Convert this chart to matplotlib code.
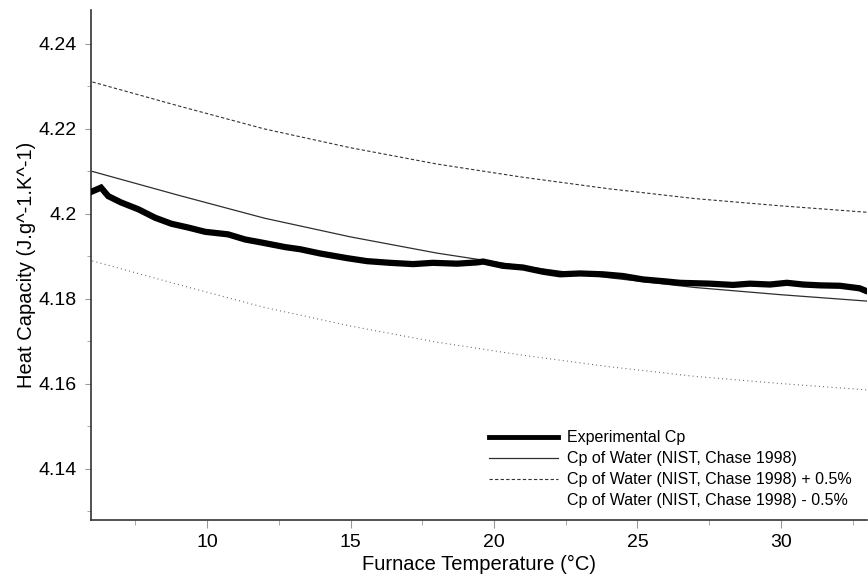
import numpy as np
import matplotlib
matplotlib.use('Agg')
import matplotlib.pyplot as plt
from matplotlib.ticker import MultipleLocator

plt.rcParams.update({
    'font.family': ['Liberation Sans', 'DejaVu Sans'],
    'font.size': 14,
})

# ── Data ────────────────────────────────────────────────────────────────
# Measured heat capacity of water vs furnace temperature
exp_temp = [5.96, 6.30, 6.55, 7.00, 7.60, 8.19, 8.75, 9.34, 9.93, 10.73,
            11.32, 11.88, 12.72, 13.24, 13.94, 14.88, 15.57, 16.38, 17.18,
            17.87, 18.71, 19.41, 19.62, 20.31, 21.01, 21.71, 22.30, 23.00,
            23.80, 24.49, 25.19, 26.03, 26.48, 27.53, 28.33, 28.92, 29.62,
            30.21, 30.77, 31.36, 32.06, 32.75, 32.93]
exp_cp = [4.2052, 4.2062, 4.2042, 4.2027, 4.2011, 4.1991, 4.1977, 4.1968,
          4.1958, 4.1952, 4.1940, 4.1933, 4.1922, 4.1917, 4.1907, 4.1896,
          4.1889, 4.1885, 4.1882, 4.1885, 4.1883, 4.1886, 4.1888, 4.1878,
          4.1874, 4.1864, 4.1858, 4.1860, 4.1858, 4.1854, 4.1846, 4.1841,
          4.1838, 4.1836, 4.1833, 4.1836, 4.1834, 4.1838, 4.1834, 4.1832,
          4.1831, 4.1825, 4.1820]

# Reference Cp of water (NIST, Chase 1998)
nist_temp = [6, 9, 12, 15, 18, 21, 24, 27, 30, 33]
nist_cp = [4.2100, 4.2044, 4.1990, 4.1946, 4.1908, 4.1877, 4.1850, 4.1827,
           4.1810, 4.1795]
tolerance = 0.005  # +/- 0.5 %

nist_cp = np.array(nist_cp)
nist_hi = nist_cp * (1 + tolerance)
nist_lo = nist_cp * (1 - tolerance)

# ── Figure ──────────────────────────────────────────────────────────────
fig = plt.figure(figsize=(8.68, 5.77), dpi=100)
ax = fig.add_axes([0.1048, 0.0988, 0.894, 0.884])

ax.plot(exp_temp, exp_cp, '-', color='black', lw=4.5,
        solid_joinstyle='miter', label='Experimental Cp', zorder=5)
ax.plot(nist_temp, nist_cp, '-', color='#2e2e2e', lw=0.9,
        label='Cp of Water (NIST, Chase 1998)', zorder=4)
ax.plot(nist_temp, nist_hi, color='#333333', lw=0.8, dashes=(3, 2),
        label='Cp of Water (NIST, Chase 1998) + 0.5%')
ax.plot(nist_temp, nist_lo, color='#555555', lw=0.8, dashes=(0.8, 3),
        label='Cp of Water (NIST, Chase 1998) - 0.5%')

ax.set_xlim(5.95, 33)
ax.set_ylim(4.128, 4.248)
ax.xaxis.set_major_locator(MultipleLocator(5))
ax.xaxis.set_minor_locator(MultipleLocator(2.5))
ax.yaxis.set_major_locator(MultipleLocator(0.02))
ax.yaxis.set_minor_locator(MultipleLocator(0.01))
ax.yaxis.set_major_formatter(plt.FuncFormatter(lambda v, p: f'{v:.2f}'.rstrip('0')))

for side in ('top', 'right'):
    ax.spines[side].set_visible(False)
for side in ('left', 'bottom'):
    ax.spines[side].set_color('#333333')
    ax.spines[side].set_linewidth(1.2)

ax.tick_params(axis='both', which='both', color='#999999', labelsize=14)
ax.tick_params(axis='y', which='major', length=4, pad=6)
ax.tick_params(axis='y', which='minor', length=3)
ax.tick_params(axis='x', which='major', length=6, pad=4)
ax.tick_params(axis='x', which='minor', length=3.5)

ax.set_xlabel('Furnace Temperature (°C)', fontsize=14.5, labelpad=3)
ax.set_ylabel('Heat Capacity (J.g^-1.K^-1)', fontsize=14.5, labelpad=2)

leg = ax.legend(loc='upper left', bbox_to_anchor=(0.513, 0.176),
                frameon=False, fontsize=11.5, handlelength=4.3,
                handletextpad=0.55, labelspacing=0.38, borderpad=0,
                borderaxespad=0)
leg.get_lines()[0].set_linewidth(3.5)
leg.get_lines()[3].set_visible(False)

fig.savefig('out.png', dpi=100)
